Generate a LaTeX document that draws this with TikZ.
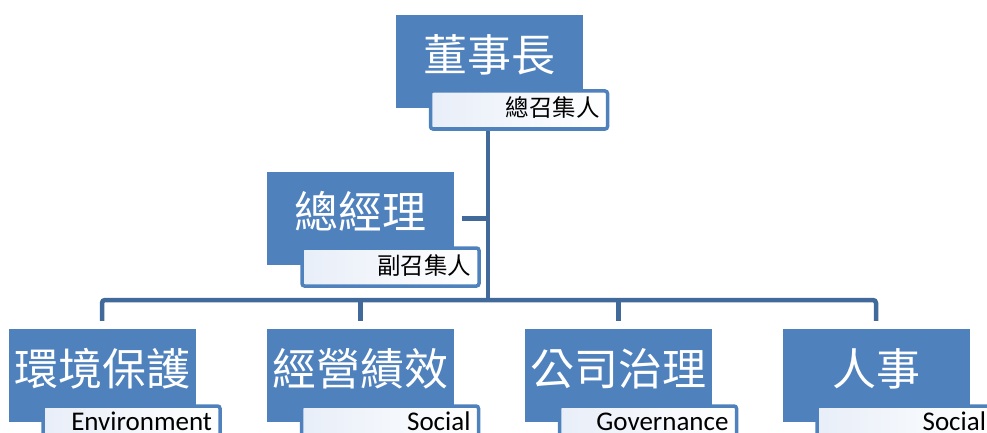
\documentclass[tikz,border=0pt]{standalone}
\usepackage{fontspec}
\setmainfont{Carlito}
\newfontfamily\cjk{Noto Sans CJK TC}
\definecolor{boxblue}{HTML}{4F81BD}
\definecolor{linkblue}{HTML}{41699A}
\definecolor{subtint}{HTML}{E8EEF8}

\begin{document}
\begin{tikzpicture}[x=1pt,y=-1pt,line width = 4.5pt]
\tikzstyle{mainbox}=[rectangle,fill=boxblue,text=white,minimum width=187pt,minimum height=93pt,
  inner sep=0pt,text height=38pt,text depth=18.6pt,font=\cjk\fontsize{44}{44}\selectfont];
\tikzstyle{subbox}=[rectangle,draw=boxblue,line width=3.5pt,rounded corners=2.5pt,left color=subtint,right color=white,
  minimum width=177pt,minimum height=38pt,inner xsep=8pt,inner ysep=0pt,text height=24pt,text depth=14pt,
  anchor=north east,text width=161pt,align=right];
\tikzstyle{cjksub}=[subbox,text height=26pt,text depth=12pt,font=\cjk\fontsize{23.5}{23.5}\selectfont];
\tikzstyle{latsub}=[subbox,font=\fontsize{27}{27}\selectfont];
\tikzstyle{link}=[draw=linkblue,line width=4.5pt];
\useasboundingbox (0,0) rectangle (987,433);
\clip (0,0) rectangle (987,433);

\coordinate (hub) at (488,300);

% boxes of the chart
\draw(489.5,61.5) node[mainbox] (chair) {董事長};
\draw(360,218.5) node[mainbox] (gm) {總經理};
\draw(102,375.5) node[mainbox] (env) {環境保護};
\draw(360.5,375.5) node[mainbox] (ops) {經營績效};
\draw(618.5,375.5) node[mainbox] (gov) {公司治理};
\draw(876,375.5) node[mainbox] (hr) {人事};

% connectors
\draw[link] (chair.south -| hub) -- (hub);
\draw[link,shorten <=6pt] (gm.east) -- (gm.east -| hub);
\draw[link,rounded corners=3pt,shorten <=6pt,shorten >=6pt] (env.north) -- (env.north |- hub) -- (hr.north |- hub) -- (hr.north);
\draw[link,shorten <=6pt] (ops.north) -- (ops.north |- hub);
\draw[link,shorten <=6pt] (gov.north) -- (gov.north |- hub);

% sub labels
\node[cjksub] (chairsub) at ([xshift=24pt,yshift=21pt]chair.south east) {總召集人};
\node[cjksub] (gmsub) at ([xshift=25pt,yshift=21pt]gm.south east) {副召集人};
\node[latsub] (envsub) at ([xshift=24pt,yshift=20pt]env.south east) {Environment};
\node[latsub] (opssub) at ([xshift=24pt,yshift=20pt]ops.south east) {Social};
\node[latsub] (govsub) at ([xshift=24pt,yshift=20pt]gov.south east) {Governance};
\node[latsub] (hrsub) at ([xshift=24pt,yshift=20pt]hr.south east) {Social};
\end{tikzpicture}
\end{document}
